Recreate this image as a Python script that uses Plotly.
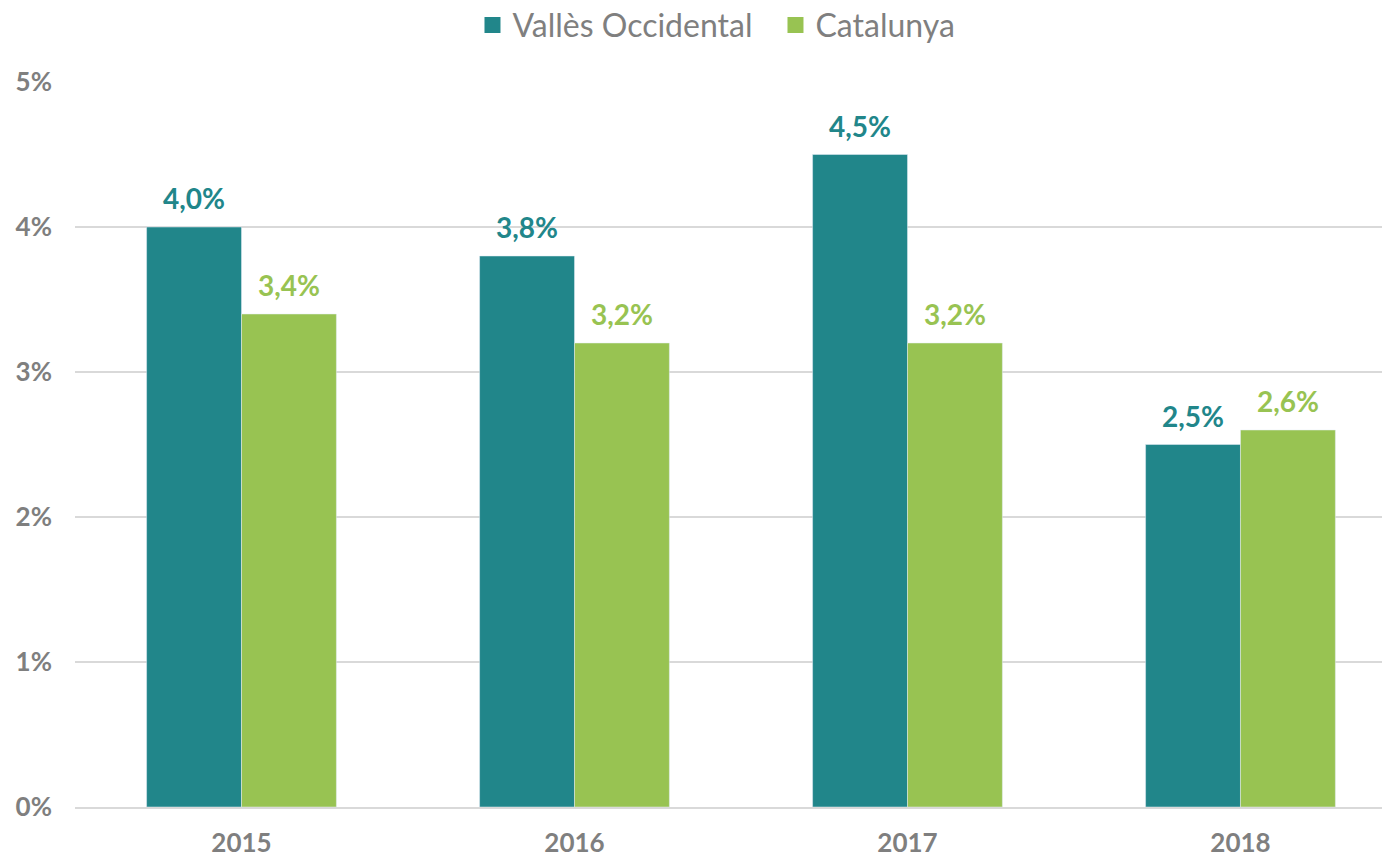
import plotly.graph_objects as go

years = ["2015", "2016", "2017", "2018"]
valles = [0.040, 0.038, 0.045, 0.025]
catalunya = [0.034, 0.032, 0.032, 0.026]
series = [("Vallès Occidental", valles, "#21868A"), ("Catalunya", catalunya, "#98C352")]

grey = "#7F7F7F"

fig = go.Figure()
for name, vals, col in series:
    fig.add_trace(go.Bar(name=name, x=years, y=vals, marker_color=col, showlegend=False,
                         offsetgroup=name, hoverinfo="skip"))
for name, vals, col in series:
    fig.add_trace(go.Scatter(x=years, y=vals, mode="markers+text", showlegend=False,
                             offsetgroup=name, texttemplate="%{y:.1%}",
                             textposition="top center", cliponaxis=False,
                             marker=dict(size=16, opacity=0, color=col),
                             textfont=dict(family="Lato", size=28, color=col, weight="bold")))
for name, vals, col in series:
    fig.add_trace(go.Scatter(x=[None], y=[None], name=name, mode="markers",
                             marker=dict(symbol="square", size=16, color=col)))

fig.update_layout(
    width=1390, height=855,
    margin=dict(l=67, r=10, t=74, b=56, autoexpand=False),
    paper_bgcolor="white", plot_bgcolor="white",
    barmode="group", bargap=0.43, bargroupgap=0,
    scattermode="group", scattergap=0.43,
    separators=", ",
    font=dict(family="Lato", color=grey),
    legend=dict(orientation="h", x=0.5335, xanchor="center", yref="container", y=0.98,
                yanchor="middle", font=dict(family="Lato", size=32, color=grey),
                itemsizing="trace", traceorder="normal", entrywidth=258),
)
fig.update_xaxes(type="category", range=[-0.5, 3.443], showgrid=False, showline=True,
                 linecolor="#D9D9D9", linewidth=2, ticks="", automargin=False,
                 tickfont=dict(family="Lato", size=26, color=grey, weight="bold"),
                 ticklabelstandoff=12)
fig.update_yaxes(range=[0, 0.05], tickformat=".0%", dtick=0.01, showgrid=True,
                 gridcolor="#D9D9D9", gridwidth=2, zeroline=False, showline=False,
                 automargin=False,
                 tickfont=dict(family="Lato", size=26, color=grey, weight="bold"),
                 ticklabelstandoff=22)

fig.write_html("out.html")
